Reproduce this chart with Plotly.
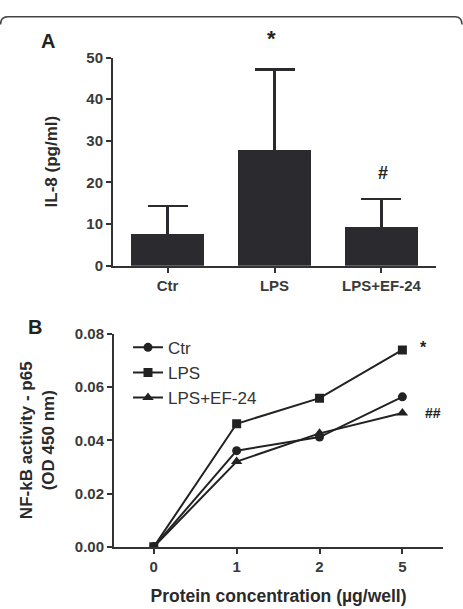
import plotly.graph_objects as go

W, H = 463, 609

# Panel A data
groups_a = ["Ctr", "LPS", "LPS+EF-24"]
il8_mean = [7.8, 28.0, 9.4]
il8_err = [6.5, 19.2, 6.6]
y_ticks_a = [0, 10, 20, 30, 40, 50]

# Panel B data
conc_labels = ["0", "1", "2", "5"]
ctr_vals = [0.0, 0.0361, 0.0412, 0.0563]
lps_vals = [0.0, 0.0462, 0.0558, 0.0739]
ef_vals = [0.0, 0.0320, 0.0426, 0.0502]
y_ticks_b = [0.00, 0.02, 0.04, 0.06, 0.08]
y_ticktext_b = ["0.00", "0.02", "0.04", "0.06", "0.08"]

DARK = "#2b2b2f"
AX = "#333333"
FONT = "Liberation Sans"

def px(x):
    return x / W

def py(y):
    return 1 - y / H

fig = go.Figure()

fig.add_trace(go.Bar(
    x=groups_a, y=il8_mean,
    error_y=dict(type="data", array=il8_err, symmetric=True,
                 color=DARK, thickness=2.5, width=20),
    marker=dict(color=DARK, line=dict(width=0)),
    width=0.68, xaxis="x", yaxis="y", showlegend=False,
))

series = [("Ctr", ctr_vals, "circle", 9), ("LPS", lps_vals, "square", 9),
          ("LPS+EF-24", ef_vals, "triangle-up", 10)]
for name, vals, sym, sz in series:
    fig.add_trace(go.Scatter(
        x=conc_labels, y=vals, name=name, mode="lines+markers",
        line=dict(color="#222222", width=2),
        marker=dict(symbol=sym, size=sz, color="#222222"),
        xaxis="x2", yaxis="y2",
    ))

tickfont = dict(family=FONT, size=15, color="#3a3a3a", weight="bold")
titlefont = dict(family=FONT, size=17, color="#2a2a2a")

common = dict(showline=True, linecolor=AX, linewidth=2, ticks="outside",
              ticklen=5, tickwidth=2, tickcolor=AX, showgrid=False,
              zeroline=False, tickfont=tickfont)

fig.update_layout(
    width=W, height=H,
    margin=dict(l=0, r=0, t=0, b=0),
    paper_bgcolor="white", plot_bgcolor="white",
    font=dict(family=FONT),
    bargap=0,
    xaxis=dict(domain=[px(113), px(436)], anchor="y", type="category",
               range=[-0.51, 2.51], **common),
    yaxis=dict(domain=[py(264), py(50)], anchor="x", range=[0, 50],
               tickvals=y_ticks_a, title=dict(text="<b>IL-8 (pg/ml)</b>", font=titlefont, standoff=24),
               **common),
    xaxis2=dict(domain=[px(114), px(443)], anchor="y2", type="category",
                range=[-0.48, 3.49],
                title=dict(text="<b>Protein concentration (µg/well)</b>",
                           font=dict(family=FONT, size=17.5, color="#2a2a2a"), standoff=16),
                **common),
    yaxis2=dict(domain=[py(553.3), py(334)], anchor="x2", range=[0, 0.08],
                tickvals=y_ticks_b, ticktext=y_ticktext_b,
                title=dict(text="<b>NF-kB activity - p65<br>(OD 450 nm)</b>",
                           font=dict(family=FONT, size=17, color="#2a2a2a"), standoff=16),
                **common),
    legend=dict(x=px(128), y=py(330), xanchor="left", yanchor="top",
                bgcolor="rgba(0,0,0,0)", font=dict(family=FONT, size=17, color="#333333"),
                itemwidth=30, tracegroupgap=0),
)

def label(x, y, text, size):
    fig.add_annotation(x=px(x), y=py(y), xref="paper", yref="paper", text=text,
                       showarrow=False, xanchor="center", yanchor="middle",
                       font=dict(family=FONT, size=size, color="#222222"))

label(48, 33, "<b>A</b>", 20)
label(35, 327, "<b>B</b>", 20)
label(271, 30, "<b>*</b>", 22)
label(383, 169, "<b>#</b>", 18)
label(423, 348, "<b>*</b>", 16)
label(433, 416, "<b>##</b>", 14)

# frame top edge with rounded corners
fig.add_shape(type="path", xref="paper", yref="paper",
              path=f"M {px(0.5)},{py(16)} Q {px(0.5)},{py(8)} {px(8)},{py(8)} L {px(455)},{py(8)} Q {px(462)},{py(8)} {px(462)},{py(16)}",
              line=dict(color="#444444", width=1.5))

fig.write_html("out.html")
